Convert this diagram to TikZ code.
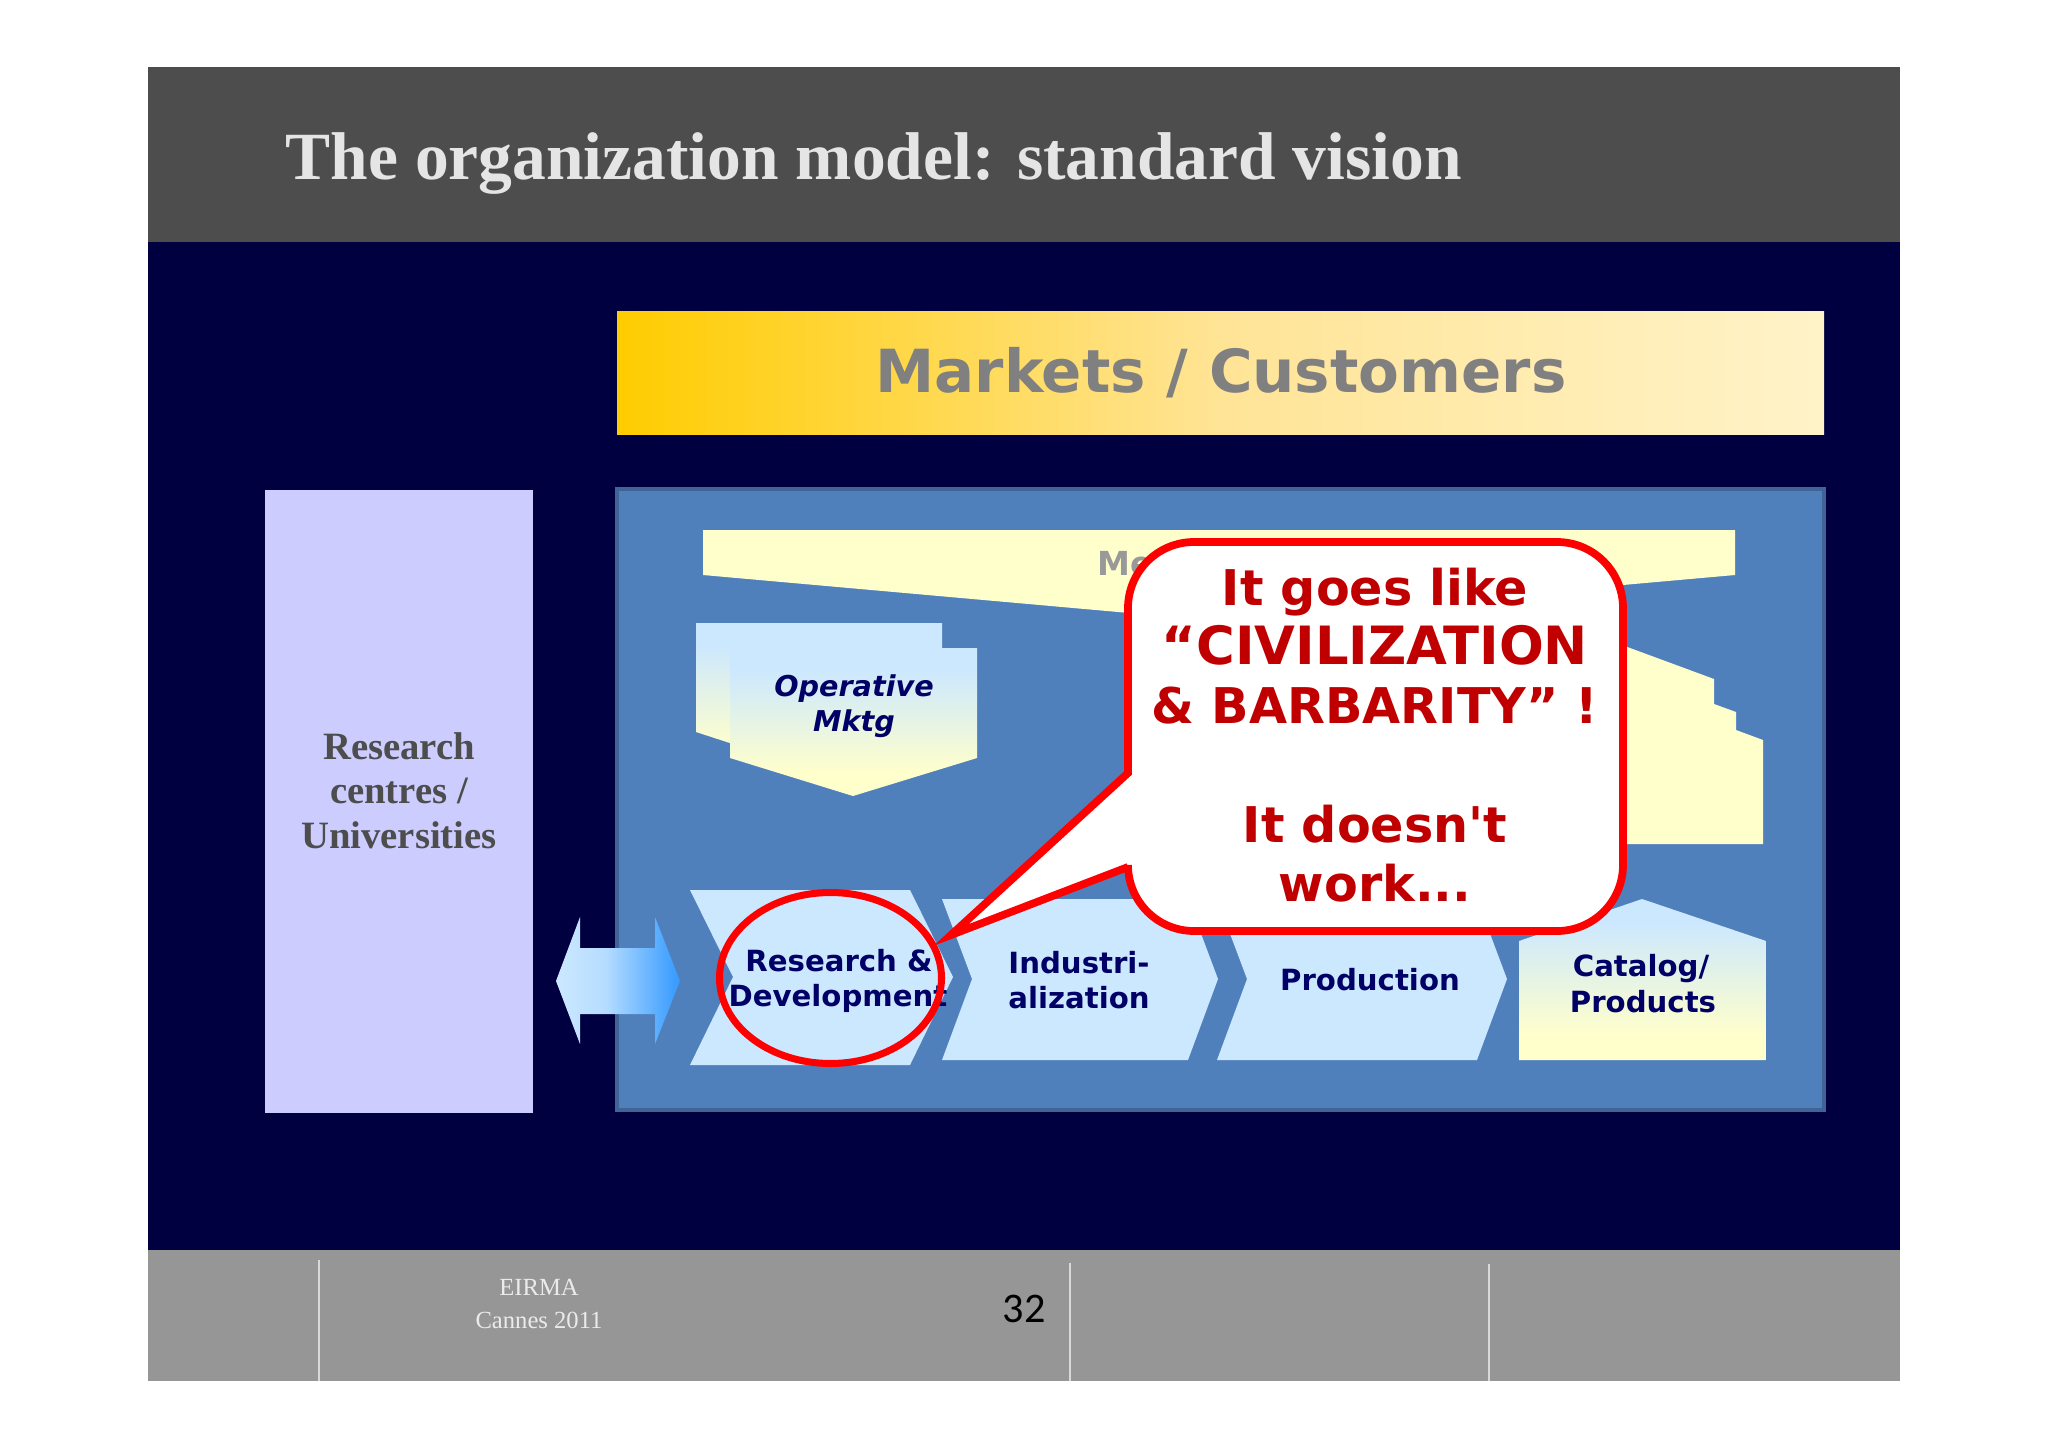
\documentclass[tikz,border=0pt]{standalone}
\usepackage{fontspec}
\newfontfamily\boxfont{DejaVu Sans}
\newfontfamily\timesfont{Liberation Serif}
\newfontfamily\pagefont{Carlito}
\usetikzlibrary{arrows,shapes,positioning}
\definecolor{slidenavy}{RGB}{0,0,64}
\definecolor{headgrey}{RGB}{77,77,77}
\definecolor{footgrey}{RGB}{150,150,150}
\definecolor{panelblue}{RGB}{80,128,188}
\definecolor{paneledge}{RGB}{64,100,150}
\definecolor{paleblue}{RGB}{204,232,255}
\definecolor{paleyellow}{RGB}{255,255,204}
\definecolor{labelnavy}{RGB}{0,0,102}
\definecolor{calloutred}{RGB}{192,0,0}
\definecolor{marketgold}{RGB}{255,204,0}
\definecolor{marketmid}{RGB}{255,228,150}
\definecolor{marketpale}{RGB}{255,243,200}
\definecolor{arrowblue}{RGB}{51,153,255}
\pgfdeclareverticalshading{pentagonshade}{100bp}{color(0bp)=(paleyellow); color(33bp)=(paleyellow); color(68bp)=(paleblue); color(100bp)=(paleblue)}
\pgfdeclarehorizontalshading{marketshade}{100bp}{color(0bp)=(marketgold); color(25bp)=(marketgold); color(50bp)=(marketmid); color(75bp)=(marketpale); color(100bp)=(marketpale)}
\pgfdeclarehorizontalshading{arrowshade}{100bp}{color(0bp)=(paleblue); color(25bp)=(paleblue); color(45bp)=(paleblue!85!arrowblue); color(75bp)=(arrowblue); color(100bp)=(arrowblue)}
\tikzset{
	stagelabel/.style={font=\boxfont\bfseries\fontsize{8.3}{10}\selectfont, text=labelnavy, anchor=base, inner sep=0pt},
	slantlabel/.style={stagelabel, font=\boxfont\bfseries\itshape\fontsize{8.15}{10}\selectfont},
	calloutlabel/.style={font=\boxfont\bfseries\fontsize{14}{17}\selectfont, text=calloutred, anchor=base, inner sep=0pt},
	centrelabel/.style={font=\timesfont\bfseries\fontsize{11}{13}\selectfont, text=headgrey, anchor=base, inner sep=0pt},
	footlabel/.style={font=\timesfont\fontsize{7}{9}\selectfont, text=white!92!black, anchor=base, inner sep=0pt},
	footrule/.style={draw=white!85!black, line width=0.45pt},
}
\begin{document}
\begin{tikzpicture}[x=0.01cm,y=-0.01cm]
	\useasboundingbox (0,0) rectangle (2048,1448);
	\fill [slidenavy] (148,67) rectangle (1900,1381);
	\fill [headgrey] (148,67) rectangle (1900,242);
	\fill [footgrey] (148,1250) rectangle (1900,1381);
	\node (title) at (285,179) [anchor=base west, inner sep=0pt, text=white!90!black, font=\timesfont\bfseries\fontsize{19.2}{23}\selectfont] {The organization model: standard vision};

	\shade [shading=marketshade] (617,311) rectangle (1824,434);
	\node (markets) at (1221,392) [anchor=base, inner sep=0pt, text=black!50, font=\boxfont\bfseries\fontsize{16.9}{20}\selectfont] {Markets / Customers};

	\fill [blue!20] (265,490) rectangle (533,1113);
	\node (research) at (399,759) [centrelabel] {Research};
	\node (centres) at (399,803) [centrelabel] {centres /};
	\node (universities) at (399,848) [centrelabel] {Universities};

	\draw [draw=paneledge, fill=panelblue, line width=1.4pt] (617,489) rectangle (1824,1110);

	\fill [paleyellow] (703,530) -- (1735,530) -- (1735,575) -- (1219,621) -- (703,575) -- cycle;
	\node (mega) at (1097,575) [anchor=base west, inner sep=0pt, text=black!40, font=\boxfont\bfseries\fontsize{9.4}{11}\selectfont] {Me};

	\shade [shading=pentagonshade] (696,623) -- (942,623) -- (942,732) -- (819,772) -- (696,732) -- cycle;
	\shade [shading=pentagonshade] (730,648) -- (977,648) -- (977,758) -- (853,796) -- (730,758) -- cycle;
	\node (operative) at (854,696) [slantlabel] {Operative};
	\node (mktg) at (854,731) [slantlabel] {Mktg};

	\fill [paleyellow] (1500,600) -- (1714,679) -- (1714,704) -- (1736,712) -- (1736,730) -- (1763,740) -- (1763,844) -- (1500,844) -- cycle;

	\fill [paleblue] (690,890) -- (910,890) -- (953,977) -- (910,1065) -- (690,1065) -- (733,977) -- cycle;
	\fill [paleblue] (942,899) -- (1188,899) -- (1218,979) -- (1188,1060) -- (942,1060) -- (972,979) -- cycle;
	\fill [paleblue] (1217,899) -- (1477,899) -- (1507,979) -- (1477,1060) -- (1217,1060) -- (1247,979) -- cycle;
	\shade [shading=pentagonshade] (1642,899) -- (1766,941) -- (1766,1060) -- (1519,1060) -- (1519,941) -- cycle;

	\node (rd) at (839,971) [stagelabel] {Research \&};
	\node (development) at (838,1006) [stagelabel] {Development};
	\node (industri) at (1079,973) [stagelabel] {Industri-};
	\node (alization) at (1079,1008) [stagelabel] {alization};
	\node (production) at (1370,990) [stagelabel] {Production};
	\node (catalog) at (1641,976) [stagelabel] {Catalog/};
	\node (products) at (1643,1012) [stagelabel] {Products};

	\shade [shading=arrowshade] (556,981) -- (580,917) -- (580,948) -- (655,948) -- (655,917) -- (680,981) -- (655,1044) -- (655,1014) -- (580,1014) -- (580,1044) -- cycle;

	\draw [red, line width=2pt] (830.5,978) ellipse (111 and 85.5);

	\draw [red, fill=white, line width=2.2pt, miter limit=20] (1128,773) -- (951,935) -- (1128,867) [rounded corners=0.66cm] -- (1128,931) -- (1623,931) -- (1623,542) -- (1128,542) -- (1128,773) [sharp corners] -- cycle;
	\node (goes) at (1375,605) [calloutlabel] {It goes like};
	\node (civil) at (1375,664) [calloutlabel, font=\boxfont\bfseries\fontsize{15}{17}\selectfont] {“CIVILIZATION};
	\node (barbar) at (1375,723) [calloutlabel] {\& BARBARITY” !};
	\node (doesnt) at (1375,842) [calloutlabel] {It doesn't};
	\node (work) at (1375,901) [calloutlabel] {work...};

	\node (eirma) at (539,1295) [footlabel] {EIRMA};
	\node (cannes) at (539,1328) [footlabel] {Cannes 2011};
	\node (pagenum) at (1024,1322) [anchor=base, inner sep=0pt, text=black, font=\pagefont\fontsize{12}{14}\selectfont] {32};
	\draw [footrule] (319,1260) -- (319,1381);
	\draw [footrule] (1070,1263) -- (1070,1381);
	\draw [footrule] (1489,1264) -- (1489,1381);
\end{tikzpicture}
\end{document}
